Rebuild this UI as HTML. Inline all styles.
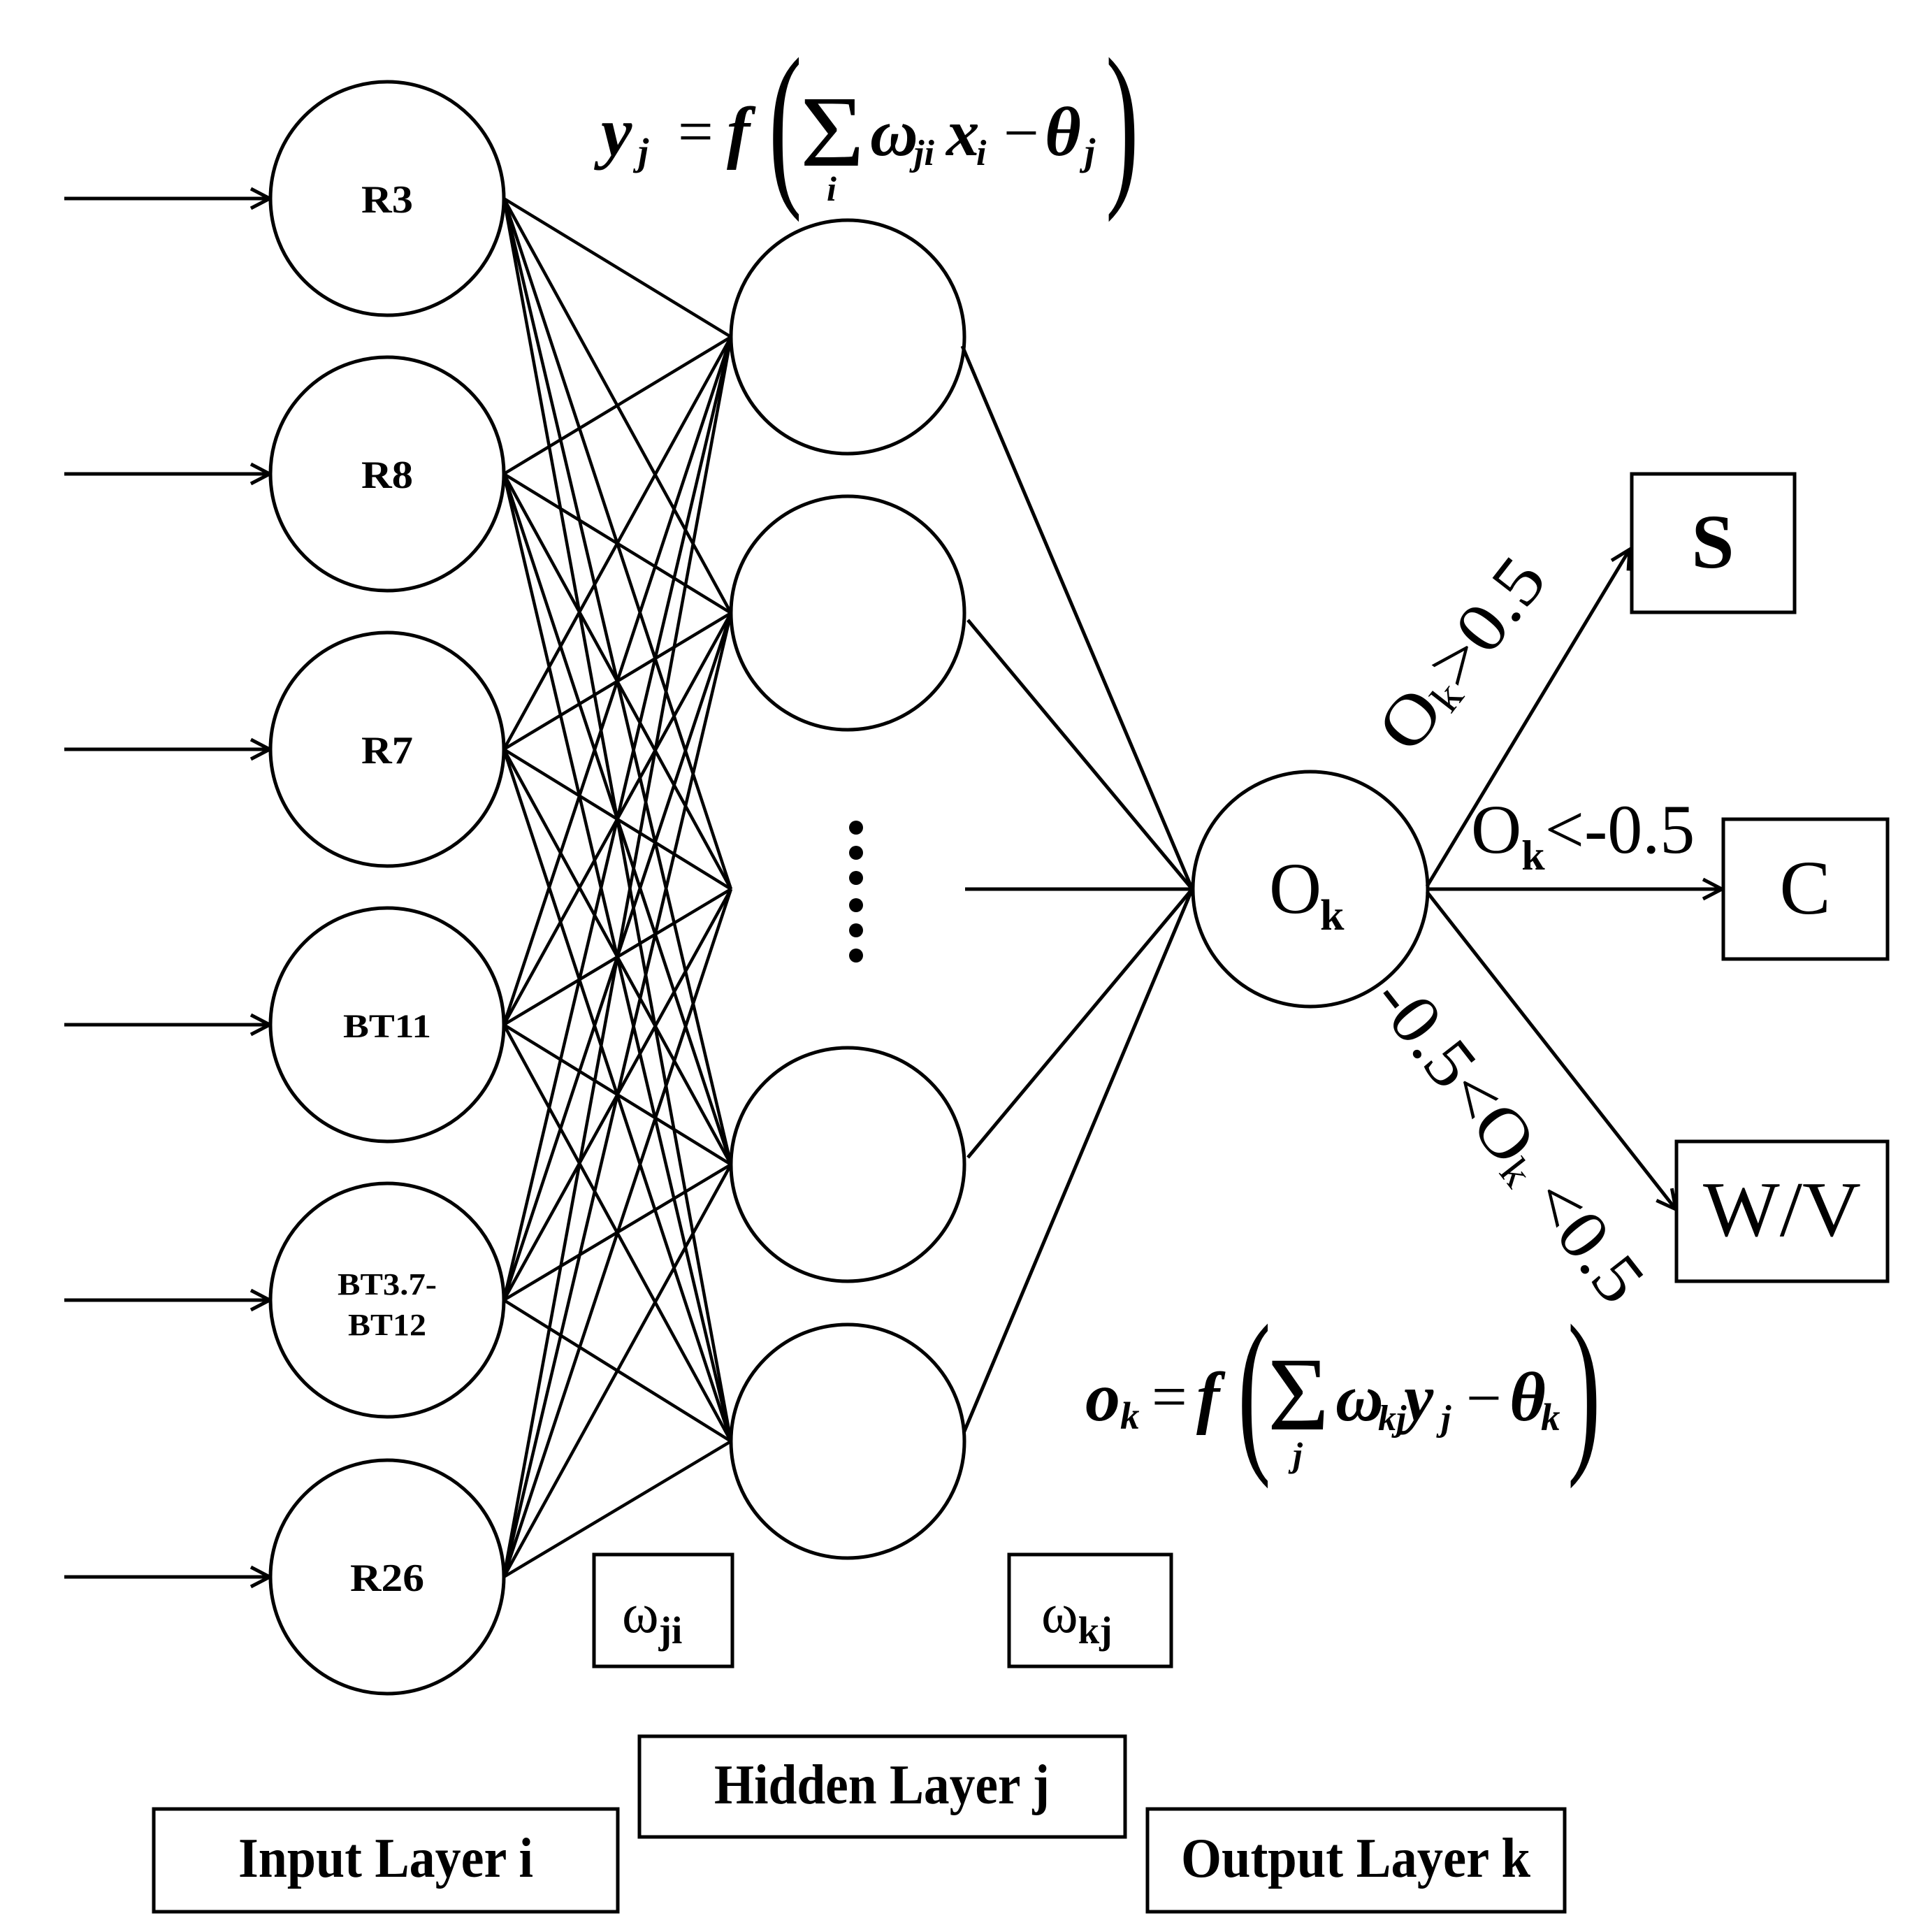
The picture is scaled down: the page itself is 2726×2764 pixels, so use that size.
<!DOCTYPE html>
<html><head><meta charset="utf-8"><style>html,body{margin:0;padding:0;background:#fff}svg{display:block}</style></head>
<body>
<svg width="2726" height="2764" viewBox="0 0 2726 2764" xmlns="http://www.w3.org/2000/svg" font-family="'Liberation Serif', serif">
<defs>
<marker id="ah" viewBox="0 0 34 34" refX="31" refY="17" markerWidth="34" markerHeight="34" markerUnits="userSpaceOnUse" orient="auto">
<path d="M4,3 L31,17 L4,31" fill="none" stroke="#000" stroke-width="5"/>
</marker>
</defs>
<g stroke="#000" stroke-width="5" fill="none">
<line x1="92" y1="284" x2="386" y2="284" marker-end="url(#ah)"/>
<line x1="92" y1="678" x2="386" y2="678" marker-end="url(#ah)"/>
<line x1="92" y1="1072" x2="386" y2="1072" marker-end="url(#ah)"/>
<line x1="92" y1="1466" x2="386" y2="1466" marker-end="url(#ah)"/>
<line x1="92" y1="1860" x2="386" y2="1860" marker-end="url(#ah)"/>
<line x1="92" y1="2256" x2="386" y2="2256" marker-end="url(#ah)"/>
<circle cx="554" cy="284" r="167"/>
<circle cx="554" cy="678" r="167"/>
<circle cx="554" cy="1072" r="167"/>
<circle cx="554" cy="1466" r="167"/>
<circle cx="554" cy="1860" r="167"/>
<circle cx="554" cy="2256" r="167"/>
<circle cx="1213" cy="482" r="167"/>
<circle cx="1213" cy="877" r="167"/>
<circle cx="1213" cy="1666" r="167"/>
<circle cx="1213" cy="2062" r="167"/>
<circle cx="1875" cy="1272" r="168"/>
<rect x="2335" y="678" width="233" height="198"/>
<rect x="2466" y="1172" width="235" height="200"/>
<rect x="2399" y="1633" width="302" height="200"/>
<rect x="850" y="2224" width="198" height="160"/>
<rect x="1444" y="2224" width="232" height="160"/>
<rect x="915" y="2484" width="695" height="144"/>
<rect x="220" y="2588" width="664" height="147"/>
<rect x="1642" y="2588" width="597" height="147"/>
<line x1="1377" y1="495" x2="1706" y2="1272"/>
<line x1="1385" y1="887" x2="1706" y2="1272"/>
<line x1="1381" y1="1272" x2="1706" y2="1272"/>
<line x1="1385" y1="1656" x2="1706" y2="1272"/>
<line x1="1379" y1="2050" x2="1706" y2="1272"/>
<line x1="2042" y1="1268" x2="2332" y2="786" marker-end="url(#ah)"/>
<line x1="2042" y1="1272" x2="2464" y2="1272" marker-end="url(#ah)"/>
<line x1="2042" y1="1276" x2="2398" y2="1730" marker-end="url(#ah)"/>
</g>
<g stroke="#000" stroke-width="4.5">
<line x1="721" y1="284" x2="1046" y2="482"/><line x1="721" y1="284" x2="1046" y2="877"/><line x1="721" y1="284" x2="1046" y2="1272"/><line x1="721" y1="284" x2="1046" y2="1666"/><line x1="721" y1="284" x2="1046" y2="2062"/>
<line x1="721" y1="678" x2="1046" y2="482"/><line x1="721" y1="678" x2="1046" y2="877"/><line x1="721" y1="678" x2="1046" y2="1272"/><line x1="721" y1="678" x2="1046" y2="1666"/><line x1="721" y1="678" x2="1046" y2="2062"/>
<line x1="721" y1="1072" x2="1046" y2="482"/><line x1="721" y1="1072" x2="1046" y2="877"/><line x1="721" y1="1072" x2="1046" y2="1272"/><line x1="721" y1="1072" x2="1046" y2="1666"/><line x1="721" y1="1072" x2="1046" y2="2062"/>
<line x1="721" y1="1466" x2="1046" y2="482"/><line x1="721" y1="1466" x2="1046" y2="877"/><line x1="721" y1="1466" x2="1046" y2="1272"/><line x1="721" y1="1466" x2="1046" y2="1666"/><line x1="721" y1="1466" x2="1046" y2="2062"/>
<line x1="721" y1="1860" x2="1046" y2="482"/><line x1="721" y1="1860" x2="1046" y2="877"/><line x1="721" y1="1860" x2="1046" y2="1272"/><line x1="721" y1="1860" x2="1046" y2="1666"/><line x1="721" y1="1860" x2="1046" y2="2062"/>
<line x1="721" y1="2256" x2="1046" y2="482"/><line x1="721" y1="2256" x2="1046" y2="877"/><line x1="721" y1="2256" x2="1046" y2="1272"/><line x1="721" y1="2256" x2="1046" y2="1666"/><line x1="721" y1="2256" x2="1046" y2="2062"/>
</g>
<g fill="#000">
<circle cx="1225" cy="1184" r="10"/><circle cx="1225" cy="1220" r="10"/><circle cx="1225" cy="1256" r="10"/><circle cx="1225" cy="1295" r="10"/><circle cx="1225" cy="1331" r="10"/><circle cx="1225" cy="1367" r="10"/>
</g>
<g font-weight="bold" text-anchor="middle" font-size="56" fill="#000">
<text x="554" y="304" textLength="74" lengthAdjust="spacingAndGlyphs">R3</text>
<text x="554" y="698" textLength="74" lengthAdjust="spacingAndGlyphs">R8</text>
<text x="554" y="1092" textLength="74" lengthAdjust="spacingAndGlyphs">R7</text>
<text x="554" y="1484" font-size="48" textLength="126" lengthAdjust="spacingAndGlyphs">BT11</text>
<text x="554" y="1852" font-size="44" textLength="142" lengthAdjust="spacingAndGlyphs">BT3.7-</text>
<text x="554" y="1910" font-size="44" textLength="112" lengthAdjust="spacingAndGlyphs">BT12</text>
<text x="554" y="2276" textLength="106" lengthAdjust="spacingAndGlyphs">R26</text>
</g>
<text x="1816" y="1306" font-size="104" fill="#000">O</text>
<text x="1889" y="1330" font-size="62" font-weight="bold" fill="#000">k</text>
<text x="2451" y="812" font-size="110" font-weight="bold" text-anchor="middle">S</text>
<text x="2583" y="1307" font-size="110" text-anchor="middle">C</text>
<text x="2550" y="1768" font-size="112" text-anchor="middle" textLength="226" lengthAdjust="spacingAndGlyphs">W/V</text>
<text x="2105" y="1220" font-size="100">O<tspan font-size="60" font-weight="bold" dy="24">k</tspan><tspan dy="-24">&lt;-0.5</tspan></text>
<g transform="translate(2091,935) rotate(-52)">
<text x="0" y="0" font-size="100" text-anchor="middle" dominant-baseline="central" textLength="320" lengthAdjust="spacingAndGlyphs">O<tspan font-size="60" dy="22">k</tspan><tspan dy="-22">&gt;0.5</tspan></text>
</g>
<g transform="translate(2160,1630) rotate(52)">
<text x="0" y="0" font-size="100" text-anchor="middle" dominant-baseline="central" textLength="560" lengthAdjust="spacingAndGlyphs">-0.5&lt;O<tspan font-size="60" dy="22">k</tspan><tspan dy="-22"> &lt;0.5</tspan></text>
</g>
<text x="890" y="2335" font-size="80">ω<tspan font-size="55" dy="16" font-weight="bold">ji</tspan></text>
<text x="1490" y="2335" font-size="80">ω<tspan font-size="55" dy="16" font-weight="bold">kj</tspan></text>
<text x="1262" y="2580" font-size="80" font-weight="bold" text-anchor="middle" textLength="480" lengthAdjust="spacingAndGlyphs">Hidden Layer j</text>
<text x="552" y="2685" font-size="80" font-weight="bold" text-anchor="middle" textLength="422" lengthAdjust="spacingAndGlyphs">Input Layer i</text>
<text x="1940" y="2685" font-size="80" font-weight="bold" text-anchor="middle" textLength="500" lengthAdjust="spacingAndGlyphs">Output Layer k</text>
<g font-style="italic" font-weight="bold" fill="#000">
<text x="860" y="222" font-size="100">y</text>
<text x="913" y="236" font-size="55">j</text>
<text x="970" y="218" font-size="90" font-style="normal" font-weight="normal">=</text>
<text x="1040" y="222" font-size="100">f</text>
<text x="1100" y="262" font-size="260" font-style="normal" font-weight="normal" transform="translate(1100,0) scale(0.55,1) translate(-1100,0)">(</text>
<text x="1145" y="237" font-size="145" font-style="normal" font-weight="normal" textLength="92" lengthAdjust="spacingAndGlyphs">Σ</text>
<text x="1183" y="287" font-size="50">i</text>
<text x="1245" y="222" font-size="95">ω</text>
<text x="1308" y="236" font-size="52">ji</text>
<text x="1354" y="222" font-size="95">x</text>
<text x="1397" y="236" font-size="52">i</text>
<text x="1436" y="220" font-size="90" font-style="normal" font-weight="normal">−</text>
<text x="1495" y="222" font-size="100">θ</text>
<text x="1552" y="236" font-size="55">j</text>
<text x="1582" y="262" font-size="260" font-style="normal" font-weight="normal" transform="translate(1582,0) scale(0.55,1) translate(-1582,0)">)</text>
</g>
<g font-style="italic" font-weight="bold" fill="#000">
<text x="1553" y="2032" font-size="100">o</text>
<text x="1603" y="2044" font-size="55">k</text>
<text x="1648" y="2028" font-size="90" font-style="normal" font-weight="normal">=</text>
<text x="1712" y="2032" font-size="100">f</text>
<text x="1771" y="2074" font-size="260" font-style="normal" font-weight="normal" transform="translate(1771,0) scale(0.55,1) translate(-1771,0)">(</text>
<text x="1814" y="2045" font-size="150" font-style="normal" font-weight="normal" textLength="88" lengthAdjust="spacingAndGlyphs">Σ</text>
<text x="1850" y="2098" font-size="50">j</text>
<text x="1911" y="2032" font-size="95">ω</text>
<text x="1972" y="2046" font-size="52">kj</text>
<text x="2009" y="2032" font-size="95">y</text>
<text x="2062" y="2046" font-size="52">j</text>
<text x="2098" y="2030" font-size="90" font-style="normal" font-weight="normal">−</text>
<text x="2160" y="2032" font-size="100">θ</text>
<text x="2205" y="2046" font-size="55">k</text>
<text x="2243" y="2074" font-size="260" font-style="normal" font-weight="normal" transform="translate(2243,0) scale(0.55,1) translate(-2243,0)">)</text>
</g>
</svg>
</body></html>
